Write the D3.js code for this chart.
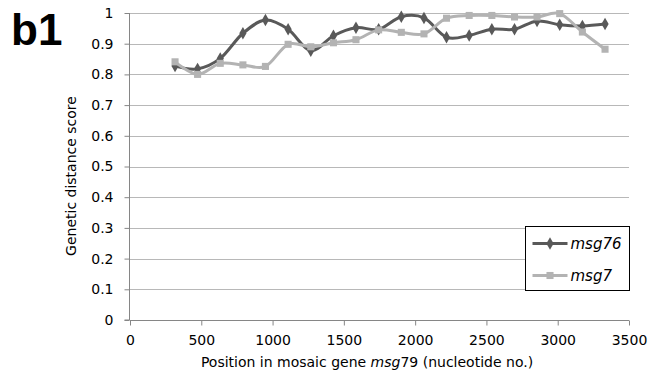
<!DOCTYPE html>
<html>
<head>
<meta charset="utf-8">
<script src="https://cdn.jsdelivr.net/npm/d3@7"></script>
<style>
  html, body { margin: 0; padding: 0; background: #fff; }
  svg { display: block; }
</style>
</head>
<body>
<div id="chart"></div>
<script>
// positions along msg79 (nucleotide no.)
const positions = [316, 474, 633, 792, 950, 1109, 1268, 1427, 1585, 1744,
                   1903, 2062, 2220, 2379, 2538, 2697, 2855, 3014, 3173, 3332];
const msg76 = [0.827, 0.818, 0.852, 0.934, 0.977, 0.947, 0.877, 0.926, 0.952, 0.947,
               0.988, 0.984, 0.921, 0.927, 0.947, 0.947, 0.974, 0.962, 0.958, 0.964];
const msg7 = [0.841, 0.800, 0.836, 0.831, 0.826, 0.898, 0.890, 0.903, 0.913, 0.945,
              0.937, 0.932, 0.983, 0.992, 0.992, 0.987, 0.987, 0.998, 0.938, 0.882];
const xTicks = [0, 500, 1000, 1500, 2000, 2500, 3000, 3500];
const yTicks = [0, 0.1, 0.2, 0.3, 0.4, 0.5, 0.6, 0.7, 0.8, 0.9, 1];

const width = 664, height = 384;
const dark = "#595959", light = "#b3b3b3";

const svg = d3.select("#chart").append("svg")
    .attr("width", width)
    .attr("height", height);

svg.append("rect").attr("width", width).attr("height", height).attr("fill", "#fff");

const x = d3.scaleLinear().domain([0, 3500]).range([130, 629]);
const y = d3.scaleLinear().domain([0, 1]).range([320, 13]);

// gridlines
svg.append("g")
    .selectAll("line")
    .data(yTicks.filter(d => d > 0))
    .join("line")
    .attr("x1", x(0)).attr("x2", x(3500))
    .attr("y1", d => Math.round(y(d)) + 0.5)
    .attr("y2", d => Math.round(y(d)) + 0.5)
    .attr("stroke", "#b8b8b8");

// y axis
const yAxis = svg.append("g")
    .attr("transform", `translate(${x(0) - 0.5},0)`)
    .call(d3.axisLeft(y).tickValues(yTicks).tickSize(5).tickPadding(11)
        .tickFormat(d => d === 0 || d === 1 ? d : d.toFixed(1)));
yAxis.select(".domain").attr("stroke", "#868686").attr("d", `M-5,${y(0)}H0V${y(1)}`);
yAxis.selectAll(".tick line").attr("stroke", "#868686");
yAxis.selectAll(".tick text")
    .attr("font-family", "DejaVu Sans").attr("font-size", 14).attr("fill", "#000");

// x axis
const xAxis = svg.append("g")
    .attr("transform", `translate(0,${Math.round(y(0)) + 0.5})`)
    .call(d3.axisBottom(x).tickValues(xTicks).tickSize(5).tickPadding(10).tickFormat(d => d));
xAxis.select(".domain").attr("stroke", "#868686").attr("d", `M${x(0)},0H${x(3500)}`);
xAxis.selectAll(".tick line").attr("stroke", "#868686");
xAxis.selectAll(".tick text")
    .attr("font-family", "DejaVu Sans").attr("font-size", 14).attr("fill", "#000");

// series
const series = [
  { name: "msg76", values: msg76, color: dark, symbol: d3.symbolDiamond, size: 45 },
  { name: "msg7", values: msg7, color: light, symbol: d3.symbolSquare, size: 50 }
];

const line = d3.line()
    .x((d, i) => x(positions[i]))
    .y(d => y(d))
    .curve(d3.curveCatmullRom.alpha(0));

series.forEach(s => {
  const g = svg.append("g");
  g.append("path")
      .datum(s.values)
      .attr("d", line)
      .attr("fill", "none")
      .attr("stroke", s.color)
      .attr("stroke-width", 3);
  g.selectAll("path.mark")
      .data(s.values)
      .join("path")
      .attr("class", "mark")
      .attr("transform", (d, i) => `translate(${x(positions[i])},${y(d)})`)
      .attr("d", d3.symbol(s.symbol).size(s.size))
      .attr("fill", s.color);
});

// panel label
svg.append("text")
    .attr("x", 11).attr("y", 45)
    .attr("font-family", "Liberation Sans, Arial").attr("font-weight", "bold")
    .attr("font-size", 44)
    .text("b1");

// y title
svg.append("text")
    .attr("transform", "translate(76,176) rotate(-90)")
    .attr("text-anchor", "middle")
    .attr("font-family", "DejaVu Sans").attr("font-size", 14)
    .text("Genetic distance score");

// x title
const xt = svg.append("text")
    .attr("x", 367).attr("y", 367)
    .attr("text-anchor", "middle")
    .attr("font-family", "DejaVu Sans").attr("font-size", 14);
xt.append("tspan").text("Position in mosaic gene ");
xt.append("tspan").attr("font-style", "italic").text("msg");
xt.append("tspan").text("79 (nucleotide no.)");

// legend
const legend = svg.append("g").attr("transform", "translate(525.5,226.5)");
legend.append("rect")
    .attr("width", 104).attr("height", 64)
    .attr("fill", "#fff").attr("stroke", "#000");
series.forEach((s, i) => {
  const ly = 17 + i * 32;
  legend.append("line")
      .attr("x1", 7).attr("x2", 42).attr("y1", ly).attr("y2", ly)
      .attr("stroke", s.color).attr("stroke-width", 3);
  legend.append("path")
      .attr("transform", `translate(24.5,${ly})`)
      .attr("d", d3.symbol(s.symbol).size(s.size))
      .attr("fill", s.color);
  legend.append("text")
      .attr("x", 45).attr("y", ly + 5.5)
      .attr("font-family", "DejaVu Sans").attr("font-style", "italic")
      .attr("font-size", 15)
      .text(s.name);
});
</script>
</body>
</html>
